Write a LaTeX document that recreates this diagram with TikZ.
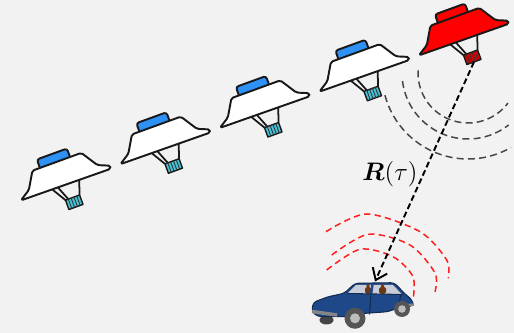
\documentclass[tikz,border=0pt]{standalone}
\usepackage{amsmath}
\usetikzlibrary{arrows.meta}
\definecolor{bgcol}{RGB}{242,242,242}
\definecolor{domeblue}{RGB}{45,145,245}
\definecolor{feedcyan}{RGB}{70,195,215}
\definecolor{carblue}{RGB}{30,72,135}
\definecolor{glass}{RGB}{200,205,215}
\definecolor{seat}{RGB}{110,55,20}
\definecolor{tyre}{RGB}{85,85,85}
\definecolor{hub}{RGB}{190,190,190}
\definecolor{wavegray}{RGB}{70,70,70}
\definecolor{wavered}{RGB}{255,30,30}
\tikzset{satline/.style={draw=black!90,line width=1.1pt,line join=round}}
\tikzset{leg/.style={draw=black!90,line width=1pt}}
\tikzset{graywave/.style={wavegray,line width=0.85pt,dash pattern=on 4pt off 2.4pt}}
\tikzset{redwave/.style={wavered,line width=0.85pt,dash pattern=on 3.6pt off 2.4pt}}
\tikzset{link/.style={line width=1.1pt,dash pattern=on 3.4pt off 1.8pt,-{Straight Barb[length=6pt,width=9pt,line width=1.1pt]}}}
\tikzset{carline/.style={draw=carblue!60!black,line width=0.6pt,line join=round}}
% satellite: #1 body, #2 dome, #3 feed
\tikzset{pics/sat/.style n args={3}{code={
    \draw[leg] (-15,0) -- (-6,-15) (-9,0) -- (-3,-15) (14,0) -- (9,-15);
    \draw[satline,line width=0.8pt,fill=#3] (-6,-15) rectangle (9,-25);
    \foreach \s in {-3,0,3,6}
      \draw[black!80,line width=0.5pt] (\s,-15) -- (\s,-25);
    \coordinate (-feed) at (1.5,-25);
    \draw[satline,fill=#2,rounded corners=1.5pt] (-19,21) rectangle (13,33);
    \draw[satline,fill=#1,rounded corners=1pt] (-48,0) -- (-37,7) -- (-27,24)
      -- (25,24) -- (36,7) -- (48,2) -- (47,-1) -- cycle;
}}}

\begin{document}
\begin{tikzpicture}[x=0.02cm,y=0.02cm]
    \fill[bgcol] (0,0) rectangle (514,333);

    % satellites in a row, the last one is the active one
    \foreach \i in {1,...,4}
      \pic[rotate=20] (s\i) at ({66+99.5*(\i-1)},{149+36.25*(\i-1)}) {sat={white}{domeblue}{feedcyan}};
    \pic[rotate=20] (s5) at (464,294) {sat={red}{red}{red!85!black}};

    % beam from the active satellite
    \draw[graywave] (468,260) ++(177:50) arc[start angle=177,end angle=323,radius=50];
    \draw[graywave] (468,260) ++(187:66) arc[start angle=187,end angle=308,radius=66];
    \draw[graywave] (468,260) ++(195:86) arc[start angle=195,end angle=300,radius=86];

    % car
    \fill[tyre!80!black] (326.5,13) ellipse (7 and 4.5);
    \draw[carline,fill=carblue,rounded corners=2pt] (311.7,21.3) -- (313.3,30.7)
      -- (328.3,36.3) -- (344.3,39.7) -- (355,49.7) -- (394.3,50.3) -- (405,39)
      -- (412.3,33) -- (413.3,27) -- (406.7,26.3) -- (396.7,24.7) -- (388.3,21.3)
      -- (365,19.7) -- (346.7,16.3) -- (318.3,16.3) -- cycle;
    \fill[glass] (347.5,39.5) -- (356,48) -- (393,48) -- (402,38.5) -- cycle;
    \fill[seat,rounded corners=1pt] (365,39) rectangle (371,46);
    \fill[seat,rounded corners=1pt] (379,39) rectangle (386,46);
    \fill[seat] (368,47) circle (1.8) (382.5,47) circle (1.8);
    \draw[carblue,line width=1.4pt] (372.5,48.5) -- (371,38.5);
    \draw[carline] (347,39.5) -- (403,38.5);
    \draw[carline] (371,38.5) -- (369.5,18.5);
    \draw[carline] (401,38.5) -- (398,25);
    \draw[hub!70!black,line width=2pt] (312,21.5) -- (337,18);
    \draw[hub!70!black,line width=1.5pt] (406,27.5) -- (414,28.5);
    \fill[tyre] (355,14.7) circle (10.5);
    \fill[hub] (355,14.7) circle (5);
    \fill[tyre] (402,24) circle (8);
    \fill[hub] (402,24) circle (3.8);
    \coordinate (roof) at (375,51.5);

    % signal around the car
    \draw[redwave] plot[smooth] coordinates {(326,101.3) (366.7,119) (420,101.3) (446.7,73) (448.3,54.7)};
    \draw[redwave] plot[smooth] coordinates {(331.7,78) (368.3,98.7) (410,88) (435,60) (435,41.3)};
    \draw[redwave] plot[smooth] coordinates {(326.7,63) (360,83.7) (393,76.3) (413,56.3) (413,33)};

    \draw[link] (s5-feed) -- (roof);
    \node[font=\Large] (range) at (390,159) {$\boldsymbol{R}(\tau)$};
\end{tikzpicture}
\end{document}
